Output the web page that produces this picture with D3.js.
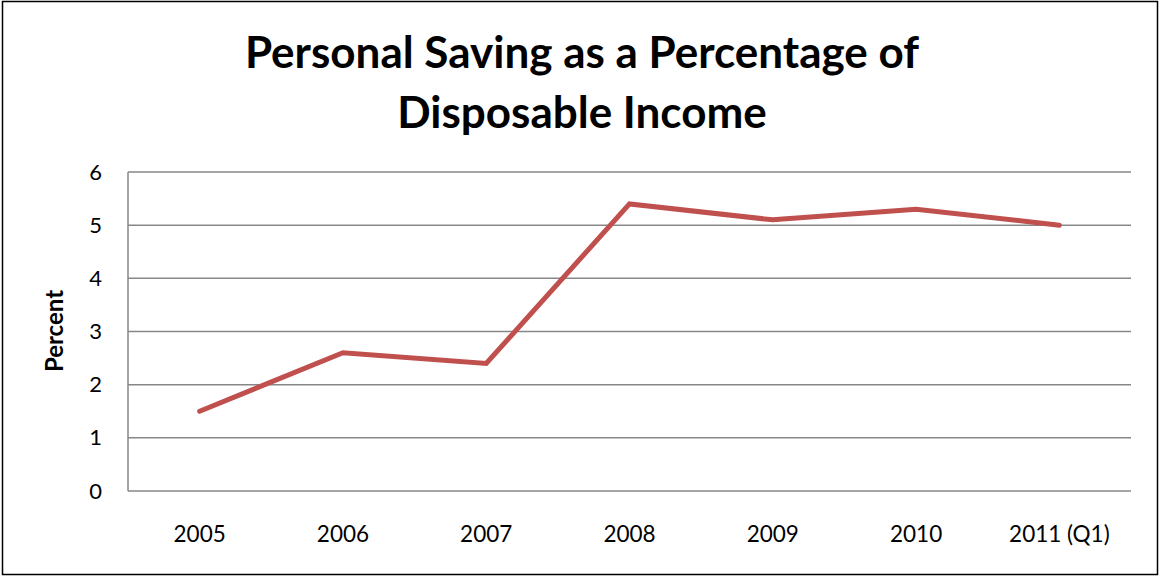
<!DOCTYPE html>
<html><head><meta charset="utf-8">
<script src="https://cdn.jsdelivr.net/npm/d3@7"></script>
<style>body{margin:0;background:#fff}svg{display:block}</style>
</head><body>
<script>
const categories = ["2005","2006","2007","2008","2009","2010","2011 (Q1)"];
const savingRate = [1.5, 2.6, 2.4, 5.4, 5.1, 5.3, 5.0];
const yTicks = [0,1,2,3,4,5,6];
const titleLines = ["Personal Saving as a Percentage of","Disposable Income"];
const yLabel = "Percent";

const W = 1160, H = 577;
const m = {left:128, right:29, top:172, bottom:86};
const font = "Lato, 'Open Sans', sans-serif";
const svg = d3.select("body").append("svg").attr("width",W).attr("height",H);
svg.append("rect").attr("x",2.5).attr("y",1.5).attr("width",1155).attr("height",573)
  .attr("fill","#fff").attr("stroke","#000").attr("stroke-width",1.5);

const x = d3.scaleBand().domain(categories).range([m.left, W-m.right]);
const y = d3.scaleLinear().domain([0,6]).range([H-m.bottom, m.top]);

const g = svg.append("g");
g.selectAll("line.grid").data(yTicks).join("line")
  .attr("x1",m.left).attr("x2",W-m.right)
  .attr("y1",d=>y(d)).attr("y2",d=>y(d))
  .attr("stroke","#878787").attr("stroke-width",1.5);
g.append("line").attr("x1",m.left).attr("x2",m.left).attr("y1",m.top).attr("y2",H-m.bottom)
  .attr("stroke","#878787").attr("stroke-width",1.5);

const yAxis = d3.axisLeft(y).tickValues(yTicks).tickFormat(d3.format("d")).tickSize(0).tickPadding(26);
svg.append("g").attr("transform",`translate(${m.left},0)`).call(yAxis)
  .call(s=>s.select(".domain").remove())
  .selectAll("text").attr("font-family",font).attr("font-size",22).attr("fill","#000");

const xAxis = d3.axisBottom(x).tickSize(0);
svg.append("g").attr("transform",`translate(0,${H-m.bottom})`).call(xAxis)
  .call(s=>s.select(".domain").remove())
  .selectAll("text").attr("dy",null).attr("y",51)
  .attr("font-family",font).attr("font-size",22.5).attr("fill","#000");

const line = d3.line().x((d,i)=>x(categories[i])+x.bandwidth()/2).y(d=>y(d));
svg.append("path").datum(savingRate).attr("d",line)
  .attr("fill","none").attr("stroke","#C0504D").attr("stroke-width",5)
  .attr("stroke-linejoin","miter").attr("stroke-linecap","round");

svg.append("text").attr("transform","translate(63,331) rotate(-90)")
  .attr("text-anchor","middle").attr("font-family",font).attr("font-weight","bold")
  .attr("font-size",24).text(yLabel);

svg.selectAll("text.title").data(titleLines).join("text").attr("class","title")
  .attr("x",582).attr("y",(d,i)=>68+i*60).attr("text-anchor","middle")
  .attr("font-family",font).attr("font-weight","bold").attr("font-size",44).text(d=>d);
</script>
</body></html>
